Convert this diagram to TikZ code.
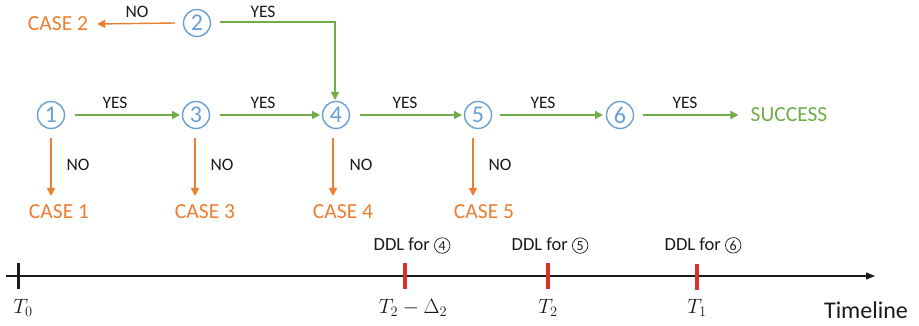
\documentclass[tikz,border=0pt]{standalone}
\usepackage{fontspec}
\setmainfont{Carlito}
\usetikzlibrary{arrows.meta,calc}
\definecolor{stepblue}{HTML}{6A9FD4}
\definecolor{okgreen}{HTML}{70AD47}
\definecolor{failorange}{HTML}{ED7D31}
\definecolor{ddlred}{HTML}{D9302A}
\definecolor{inkblack}{HTML}{1A1A1A}
% small circled digit for the deadline labels
\newcommand{\ringdigit}[1]{\tikz[baseline=(rd.base),x=1pt,y=1pt]
  \node[circle,draw=inkblack,line width=0.7pt,inner sep=0pt,minimum size=15.5pt,
    font=\fontsize{14}{14}\selectfont,text=inkblack] (rd) {#1};}
\begin{document}
\begin{tikzpicture}[x=1pt,y=-1pt,
  stepnode/.style={circle,draw=stepblue,line width=1.4pt,minimum size=27pt,inner sep=0pt,
    text=stepblue,font=\fontsize{24}{24}\selectfont},
  yesarrow/.style={draw=okgreen,line width=1.4pt,-{Triangle[length=8pt,width=8pt]}},
  noarrow/.style={draw=failorange,line width=1.4pt,-{Triangle[length=8pt,width=8pt]}},
  lbl/.style={font=\fontsize{17.5}{17.5}\selectfont,text=inkblack,inner sep=0pt},
  casetext/.style={font=\fontsize{21.5}{21.5}\selectfont,text=failorange,inner sep=0pt},
  ddltext/.style={font=\fontsize{18.5}{18.5}\selectfont,text=inkblack,inner sep=0pt,anchor=base},
  mathtext/.style={font=\fontsize{21}{21}\selectfont,text=inkblack,inner sep=0pt,anchor=base},
  redtick/.style={draw=ddlred,line width=3.5pt},
]
\useasboundingbox (0,0) rectangle (919,326);

% decision steps
\node[stepnode] (s1) at (51,115) {1};
\node[stepnode] (s2) at (197,23) {2};
\node[stepnode] (s3) at (196,115) {3};
\node[stepnode] (s4) at (336,115) {4};
\node[stepnode] (s5) at (478,115) {5};
\node[stepnode] (s6) at (620,115) {6};

% outcomes
\node[casetext,text=okgreen] (succ) at (789,115) {SUCCESS};
\node[casetext] (c2) at (58,24) {CASE 2};
\node[casetext] (c1) at (59,212) {CASE 1};
\node[casetext] (c3) at (205,212) {CASE 3};
\node[casetext] (c4) at (343,212) {CASE 4};
\node[casetext] (c5) at (484,212) {CASE 5};

% main chain
\draw[yesarrow] ($(s1)+(24,0)$) -- ($(s3)+(-16,0)$);
\draw[yesarrow] ($(s3)+(24,0)$) -- ($(s4)+(-16,0)$);
\draw[yesarrow] ($(s4)+(24,0)$) -- ($(s5)+(-16,0)$);
\draw[yesarrow] ($(s5)+(22,0)$) -- ($(s6)+(-17,0)$);
\draw[yesarrow] ($(s6)+(23,0)$) -- ($(succ.west)+(-12,0)$);
\node[lbl] (y13) at (115,103) {YES};
\node[lbl] (y34) at (263,103) {YES};
\node[lbl] (y45) at (405,103) {YES};
\node[lbl] (y56) at (543,103) {YES};
\node[lbl] (y6s) at (685,103) {YES};

% branch from step 2
\draw[noarrow] ($(s2)+(-22,0)$) -- ($(c2.east)+(9,0)$);
\node[lbl] (n2) at (137,12) {NO};
\draw[yesarrow] ($(s2)+(23,-1)$) -| ($(s4)+(-1,-15)$);
\node[lbl] (y24) at (263,12) {YES};

% failure branches
\draw[noarrow] ($(s1)+(0,23)$) -- ($(s1)+(0,81)$);
\draw[noarrow] ($(s3)+(-1,23)$) -- ($(s3)+(-1,81)$);
\draw[noarrow] ($(s4)+(-3,23)$) -- ($(s4)+(-3,81)$);
\draw[noarrow] ($(s5)+(-5,23)$) -- ($(s5)+(-5,81)$);
\node[lbl] (n1) at (78,165) {NO};
\node[lbl] (n3) at (222,165) {NO};
\node[lbl] (n4) at (361,165) {NO};
\node[lbl] (n5) at (500,165) {NO};

% timeline
\coordinate (tstart) at (6,276);
\coordinate (tend) at (875,276);
\draw[draw=inkblack,line width=1.3pt,-{Triangle[length=9pt,width=7pt]}] (tstart) -- (tend);
\draw[draw=inkblack,line width=3pt] (18,263) -- (18,289);
\draw[redtick] (405,263) -- (405,289);
\draw[redtick] (548,263) -- (548,289);
\draw[redtick] (697,264) -- (697,290);

\node[ddltext] (d4) at (412,250) {DDL for \ringdigit{4}};
\node[ddltext] (d5) at (550,250) {DDL for \ringdigit{5}};
\node[ddltext] (d6) at (703,250) {DDL for \ringdigit{6}};

\node[mathtext] (t0) at (23,313) {$T_0$};
\node[mathtext] (t2d) at (413,313) {$T_2-\Delta_2$};
\node[mathtext] (t2) at (548,313) {$T_2$};
\node[mathtext] (t1) at (697,313) {$T_1$};
\node[ddltext,font=\fontsize{24}{24}\selectfont] (tl) at (866,318) {Timeline};
\end{tikzpicture}
\end{document}
